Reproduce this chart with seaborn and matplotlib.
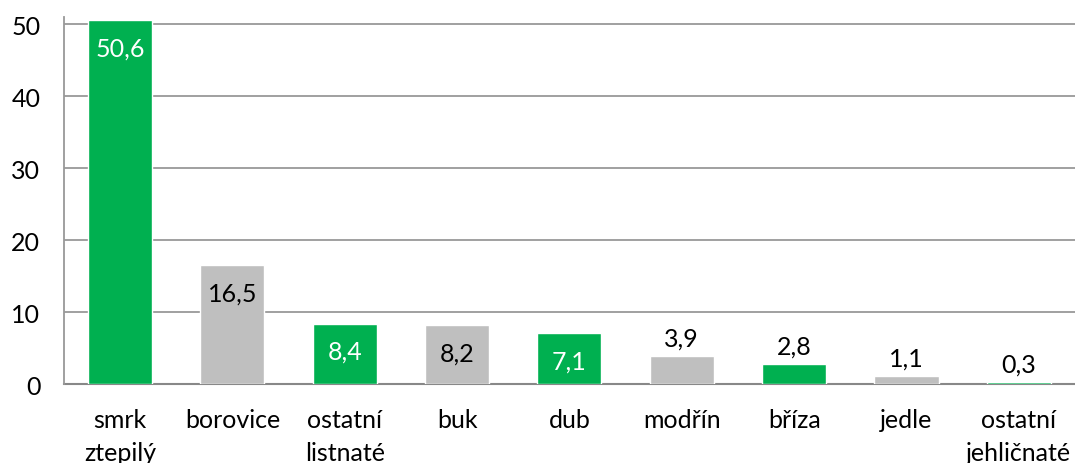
import matplotlib
matplotlib.use("Agg")
import matplotlib.pyplot as plt
import numpy as np
import pandas as pd
import seaborn as sns

# data
dreviny = ['smrk\nztepilý', 'borovice', 'ostatní\nlistnaté', 'buk', 'dub',
           'modřín', 'bříza', 'jedle', 'ostatní\njehličnaté']
podil = [50.6, 16.5, 8.4, 8.2, 7.1, 3.9, 2.8, 1.1, 0.3]
barvy = ['#00B050', '#BFBFBF', '#00B050', '#BFBFBF', '#00B050',
         '#BFBFBF', '#00B050', '#BFBFBF', '#00B050']

df = pd.DataFrame({'drevina': dreviny, 'podil': podil})

sns.set_style('white')
plt.rcParams['font.family'] = ['Lato', 'DejaVu Sans']

fig = plt.figure(figsize=(10.75, 4.64), dpi=100)
ax = fig.add_axes([0.0595, 0.170, 0.9405, 0.791])

sns.barplot(data=df, x='drevina', y='podil', hue='drevina', palette=barvy,
            legend=False, width=0.57, saturation=1, ax=ax)
for p in ax.patches:
    p.set_zorder(4)

ax.set_xlim(-0.5, 8.5)
ax.set_ylim(0, 51)
ax.set_yticks(range(0, 51, 10))
ax.yaxis.grid(True, color='#999999', linewidth=1.3, zorder=0)
ax.set_axisbelow(True)
ax.set_xlabel('')
ax.set_ylabel('')
ax.tick_params(axis='y', labelsize=18, length=0, pad=17, labelcolor='black')
ax.tick_params(axis='x', labelsize=18, length=0, pad=17, labelcolor='black')
for lbl in ax.get_xticklabels():
    lbl.set_linespacing(1.55)

for s in ['top', 'right']:
    ax.spines[s].set_visible(False)
ax.spines['left'].set_color('#999999')
ax.spines['left'].set_linewidth(1.3)
ax.spines['bottom'].set_color('#888888')
ax.spines['bottom'].set_linewidth(1.5)
ax.spines['bottom'].set_zorder(2)

# value labels with decimal comma
for i, v in enumerate(podil):
    txt = f'{v:.1f}'.replace('.', ',')
    if v > 5:
        col = 'white' if barvy[i] == '#00B050' else 'black'
        ax.annotate(txt, (i, v), xytext=(0, -20), textcoords='offset points',
                    ha='center', va='center', fontsize=18, color=col, zorder=5)
    else:
        ax.annotate(txt, (i, v), xytext=(0, 13), textcoords='offset points',
                    ha='center', va='center', fontsize=18, color='black', zorder=5)

fig.savefig('out.png', dpi=100)
